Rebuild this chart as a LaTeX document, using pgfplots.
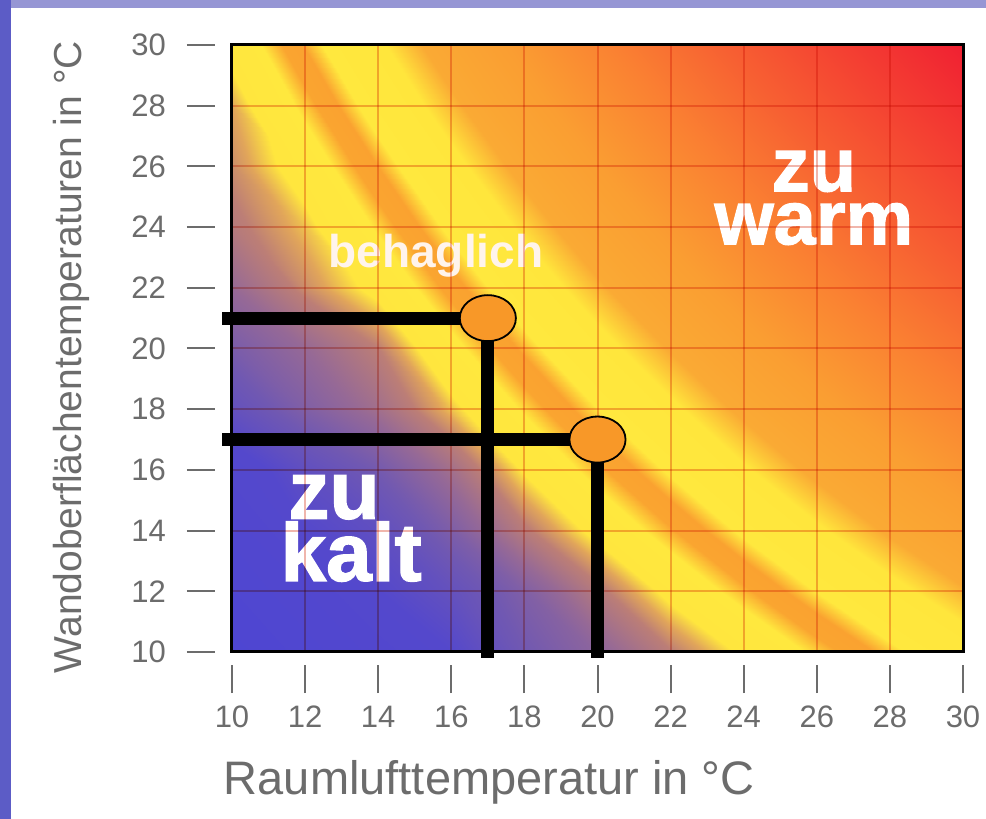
\documentclass[border=0pt]{standalone}
\usepackage{pgfplots}
\pgfplotsset{compat=1.18}
\usepackage{fontspec}
\setmainfont{Liberation Sans}
\newfontfamily\heavy{Liberation Sans}[BoldFeatures={FakeBold=1.6}]
\definecolor{tickgray}{RGB}{108,108,108}
\definecolor{dotorange}{RGB}{248,152,40}
\definecolor{slideblue}{RGB}{92,92,198}
\definecolor{slidelav}{RGB}{150,150,212}
\pgfplotsset{
  colormap={comfort}{
    rgb255(0pt)=(78,70,210)
    rgb255(185pt)=(84,72,204)
    rgb255(255pt)=(112,88,178)
    rgb255(315pt)=(150,105,150)
    rgb255(365pt)=(188,126,118)
    rgb255(390pt)=(225,165,90)
    rgb255(413pt)=(255,230,62)
    rgb255(470pt)=(255,232,62)
    rgb255(498pt)=(250,165,48)
    rgb255(527pt)=(250,162,48)
    rgb255(553pt)=(255,232,62)
    rgb255(640pt)=(255,230,60)
    rgb255(690pt)=(250,170,52)
    rgb255(805pt)=(250,158,50)
    rgb255(955pt)=(250,128,50)
    rgb255(1105pt)=(247,95,50)
    rgb255(1255pt)=(244,65,50)
    rgb255(1430pt)=(240,32,50)
  }
}
\begin{document}
\begin{tikzpicture}[x=1pt,y=1pt]
\fill[slideblue] (-116,-83.5) rectangle (377,326);
\fill[slidelav] (-110.5,322) rectangle (377,326);
\fill[white] (-110.5,-83.5) rectangle (377,322);
\begin{axis}[
  at={(0,0)}, anchor=south west,
  scale only axis, width=365.5pt, height=303.5pt,
  axis on top, clip=false,
  xmin=10, xmax=30, ymin=10, ymax=30,
  xtick={10,12,...,30}, ytick={10,12,...,30},
  tick align=outside, xtick pos=bottom, ytick pos=left,
  major tick length=14pt,
  xtick style={draw=tickgray, line width=1pt, yshift=-6.5pt},
  ytick style={draw=tickgray, line width=1pt, xshift=-8.5pt},
  /pgf/number format/assume math mode=true,
  tick label style={font=\fontsize{15.5}{15.5}\selectfont, text=tickgray},
  xticklabel style={yshift=-9.5pt},
  yticklabel style={xshift=-15.5pt},
  axis line style={line width=1.5pt, black},
  grid=major,
  major grid style={line width=1pt, draw={rgb,255:red,240;green,182;blue,172}, blend mode=multiply},
  colormap name=comfort,
  point meta min=645, point meta max=2075,
  xlabel={Raumlufttemperatur in °C},
  ylabel={Wandoberflächentemperaturen in °C},
  xlabel style={at={(axis description cs:0.352,-0.214)}, anchor=center, font=\fontsize{23.5}{23.5}\selectfont, text=tickgray},
  ylabel style={at={(axis description cs:-0.2202,0.486)}, anchor=center, font=\fontsize{19.5}{19.5}\selectfont, text=tickgray},
]
\addplot[surf, shader=interp, mesh/rows=11, mesh/cols=11, point meta=explicit]
table[meta=c, row sep=\\] {
x y c\\
10 10 645\\ 12 10 705\\ 14 10 765\\ 16 10 830\\ 18 10 900\\ 20 10 945\\ 22 10 1008\\ 24 10 1065\\ 26 10 1125\\ 28 10 1185\\ 30 10 1245\\
10 12 690\\ 12 12 752\\ 14 12 830\\ 16 12 870\\ 18 12 925\\ 20 12 1000\\ 22 12 1072\\ 24 12 1136\\ 26 12 1200\\ 28 12 1264\\ 30 12 1328\\
10 14 731\\ 12 14 830\\ 14 14 860\\ 16 14 920\\ 18 14 1003\\ 20 14 1071\\ 22 14 1139\\ 24 14 1207\\ 26 14 1275\\ 28 14 1343\\ 30 14 1411\\
10 16 800\\ 12 16 860\\ 14 16 905\\ 16 16 975\\ 18 16 1062\\ 20 16 1134\\ 22 16 1206\\ 24 16 1278\\ 26 16 1350\\ 28 16 1422\\ 30 16 1494\\
10 18 870\\ 12 18 925\\ 14 18 975\\ 16 18 1045\\ 18 18 1121\\ 20 18 1197\\ 22 18 1273\\ 24 18 1349\\ 26 18 1425\\ 28 18 1501\\ 30 18 1577\\
10 20 915\\ 12 20 960\\ 14 20 1010\\ 16 20 1100\\ 18 20 1180\\ 20 20 1260\\ 22 20 1340\\ 24 20 1420\\ 26 20 1500\\ 28 20 1580\\ 30 20 1660\\
10 22 960\\ 12 22 1020\\ 14 22 1071\\ 16 22 1155\\ 18 22 1239\\ 20 22 1323\\ 22 22 1407\\ 24 22 1491\\ 26 22 1575\\ 28 22 1659\\ 30 22 1743\\
10 24 1000\\ 12 24 1045\\ 14 24 1122\\ 16 24 1210\\ 18 24 1298\\ 20 24 1386\\ 22 24 1474\\ 24 24 1562\\ 26 24 1650\\ 28 24 1738\\ 30 24 1826\\
10 26 1020\\ 12 26 1081\\ 14 26 1173\\ 16 26 1265\\ 18 26 1357\\ 20 26 1449\\ 22 26 1541\\ 24 26 1633\\ 26 26 1725\\ 28 26 1817\\ 30 26 1909\\
10 28 1035\\ 12 28 1128\\ 14 28 1224\\ 16 28 1320\\ 18 28 1416\\ 20 28 1512\\ 22 28 1608\\ 24 28 1704\\ 26 28 1800\\ 28 28 1896\\ 30 28 1992\\
10 30 1075\\ 12 30 1175\\ 14 30 1275\\ 16 30 1375\\ 18 30 1475\\ 20 30 1575\\ 22 30 1675\\ 24 30 1775\\ 26 30 1875\\ 28 30 1975\\ 30 30 2075\\
};
\addplot[black, line width=6.5pt, line join=miter] coordinates {(9.73,21) (17,21) (17,9.8)};
\addplot[black, line width=6.5pt, line join=miter] coordinates {(9.73,17) (20,17) (20,9.8)};
\addplot[only marks, mark=*, mark size=11.5pt, mark options={xscale=1.22, fill=dotorange, draw=black, line width=0.9pt}] coordinates {(17,21) (20,17)};
\node[text=white, align=center, inner sep=0pt, font=\heavy\bfseries\fontsize{38}{26.5}\selectfont] at (axis cs:25.92,24.96) {zu\\warm};
\node[text={rgb,255:red,255;green,244;blue,236}, inner sep=0pt, font=\bfseries\fontsize{23}{23}\selectfont] at (axis cs:15.58,23.05) {behaglich};
\node[text=white, align=left, inner sep=0pt, font=\heavy\bfseries\fontsize{41}{29}\selectfont] at (axis cs:13.26,14.07) {\hspace*{4pt}zu\\kalt};
\end{axis}
\pgfresetboundingbox
\path[use as bounding box] (-116,-83.5) rectangle (377,326);
\end{tikzpicture}
\end{document}
